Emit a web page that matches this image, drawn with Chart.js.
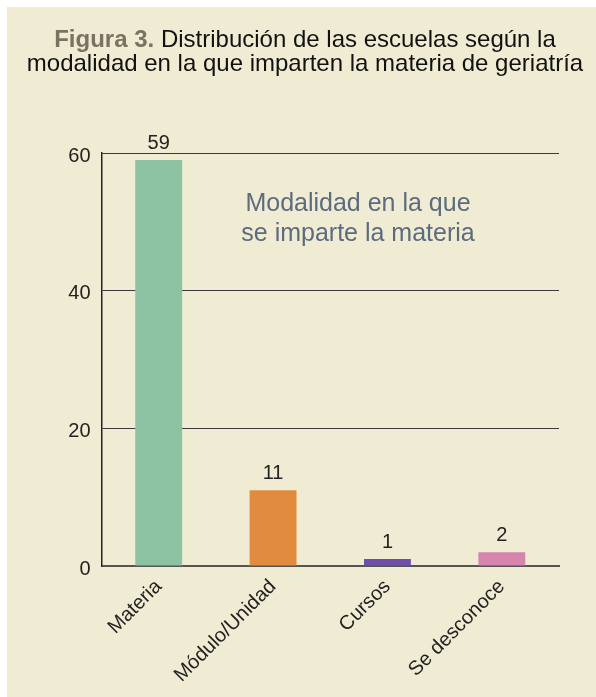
<!DOCTYPE html>
<html>
<head>
<meta charset="utf-8">
<script src="https://cdn.jsdelivr.net/npm/chart.js@4.4.0/dist/chart.umd.min.js"></script>
<style>
html,body{margin:0;padding:0;background:#fff;}
#wrap{position:relative;width:596px;height:697px;}
</style>
</head>
<body>
<div id="wrap"><canvas id="c" width="596" height="697"></canvas></div>
<script>
const categories = ['Materia', 'Módulo/Unidad', 'Cursos', 'Se desconoce'];
const values = [59, 11, 1, 2];
const barColors = ['#8DC3A3', '#E08B3D', '#6F4FAB', '#D585AE'];
const yTicks = [0, 20, 40, 60];
const titleBold = 'Figura 3.';
const titleLine1 = ' Distribución de las escuelas según la';
const titleLine2 = 'modalidad en la que imparten la materia de geriatría';
const noteLines = ['Modalidad en la que', 'se imparte la materia'];

const FONT = '"Liberation Sans", Arial, Helvetica, sans-serif';

const bgPlugin = {
  id: 'bg',
  beforeDraw(chart) {
    const ctx = chart.ctx;
    ctx.save();
    ctx.fillStyle = '#ffffff';
    ctx.fillRect(0, 0, chart.width, chart.height);
    ctx.fillStyle = '#F0ECD4';
    ctx.fillRect(7, 7, chart.width - 7, chart.height - 7);
    ctx.restore();
  }
};

const textPlugin = {
  id: 'texts',
  afterDraw(chart) {
    const ctx = chart.ctx;
    ctx.save();
    // Title
    ctx.textBaseline = 'alphabetic';
    ctx.font = 'bold 24px ' + FONT;
    const wB = ctx.measureText(titleBold).width;
    ctx.font = '24px ' + FONT;
    const w1 = ctx.measureText(titleLine1).width;
    let x0 = 305 - (wB + w1) / 2;
    ctx.textAlign = 'left';
    ctx.font = 'bold 24px ' + FONT;
    ctx.fillStyle = '#7B7361';
    ctx.fillText(titleBold, x0, 47);
    ctx.font = '24px ' + FONT;
    ctx.fillStyle = '#111';
    ctx.fillText(titleLine1, x0 + wB, 47);
    ctx.textAlign = 'center';
    ctx.fillText(titleLine2, 305, 71);

    // Value labels
    const xs = chart.scales.x, ys = chart.scales.y;
    ctx.font = '20px ' + FONT;
    ctx.fillStyle = '#222';
    values.forEach((v, i) => {
      ctx.fillText(String(v), xs.getPixelForValue(i), ys.getPixelForValue(v) - 11);
    });

    // Note
    ctx.font = '25px ' + FONT;
    ctx.fillStyle = '#5C6B7E';
    ctx.fillText(noteLines[0], 358, 211);
    ctx.fillText(noteLines[1], 358, 241);
    ctx.restore();
  }
};

new Chart(document.getElementById('c'), {
  type: 'bar',
  data: {
    labels: categories,
    datasets: [{
      data: values,
      backgroundColor: barColors,
      borderWidth: 0,
      barPercentage: 0.41,
      categoryPercentage: 1.0
    }]
  },
  options: {
    responsive: false,
    animation: false,
    devicePixelRatio: 1,
    layout: { padding: { left: 0, right: 37, top: 153, bottom: 0 } },
    plugins: { legend: { display: false }, tooltip: { enabled: false }, title: { display: false } },
    scales: {
      x: {
        grid: { display: false, drawTicks: false },
        border: { display: true, color: '#555', width: 2 },
        ticks: {
          minRotation: 45, maxRotation: 45, autoSkip: false,
          padding: 9,
          color: '#222',
          font: { family: FONT, size: 20 }
        },
        afterFit(scale) { scale.height = 131; }
      },
      y: {
        min: 0, max: 60,
        afterBuildTicks(scale) { scale.ticks = yTicks.map(v => ({ value: v })); },
        grid: {
          color: (c) => c.tick && c.tick.value === 0 ? 'rgba(0,0,0,0)' : '#3a3a3a',
          lineWidth: 1,
          drawTicks: false
        },
        border: { display: true, color: '#222', width: 1.5 },
        ticks: {
          padding: 11,
          labelOffset: 3,
          color: '#222',
          font: { family: FONT, size: 20 }
        },
        afterFit(scale) { scale.width = 101.5; }
      }
    }
  },
  plugins: [bgPlugin, textPlugin]
});
</script>
</body>
</html>
